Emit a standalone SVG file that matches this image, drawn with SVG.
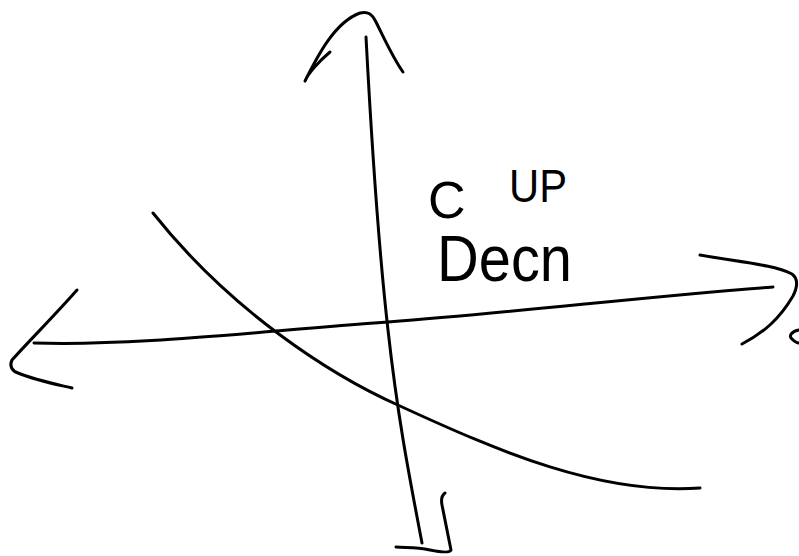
<svg xmlns="http://www.w3.org/2000/svg" width="799" height="556" viewBox="0 0 799 556">
<style>
.s{fill:none;stroke:#000;stroke-width:3;stroke-linecap:round;stroke-linejoin:round}
.t{font-family:"Liberation Sans",Arial,sans-serif;fill:#000}
</style>
<rect width="799" height="556" fill="#fff"/>
<g id="axes">
<path class="s" d="M366,37 C372,150 380,260 388,330 C398,420 410,480 422,543"/>
<path class="s" d="M330,52 C318,62 308,74 305,81 C318,55 335,22 360,13 C368,11 372,14 376,22 C385,40 393,58 403,72"/>
<path class="s" d="M445,493 C441,496 441,500 442,505 C445,520 449,540 451,550 C450,553 440,552 430,550 C415,547 405,548 396,547"/>
<path class="s" d="M34,343 C140,346 250,332 388,322 C520,312 650,296 773,287"/>
<path class="s" d="M77,290 C55,315 30,340 12,360 C9,366 12,371 18,373 C35,380 55,384 72,388"/>
<path class="s" d="M700,255 C740,262 775,265 792,274 C800,280 796,290 793,296 C780,318 765,332 742,344"/>
<path class="s" d="M799,330 C792,331 788,336 792,339 C794,341 797,343 799,343"/>
</g>
<g id="curve">
<path class="s" d="M153,213 C230,310 330,375 400,406 C500,452 600,495 700,488"/>
</g>
<g id="labels">
<text class="t" x="428" y="218" font-size="52">C</text>
<text class="t" x="509" y="202" font-size="46" textLength="58" lengthAdjust="spacingAndGlyphs">UP</text>
<text class="t" x="437" y="281" font-size="64" textLength="135" lengthAdjust="spacingAndGlyphs">Decn</text>
</g>
</svg>
